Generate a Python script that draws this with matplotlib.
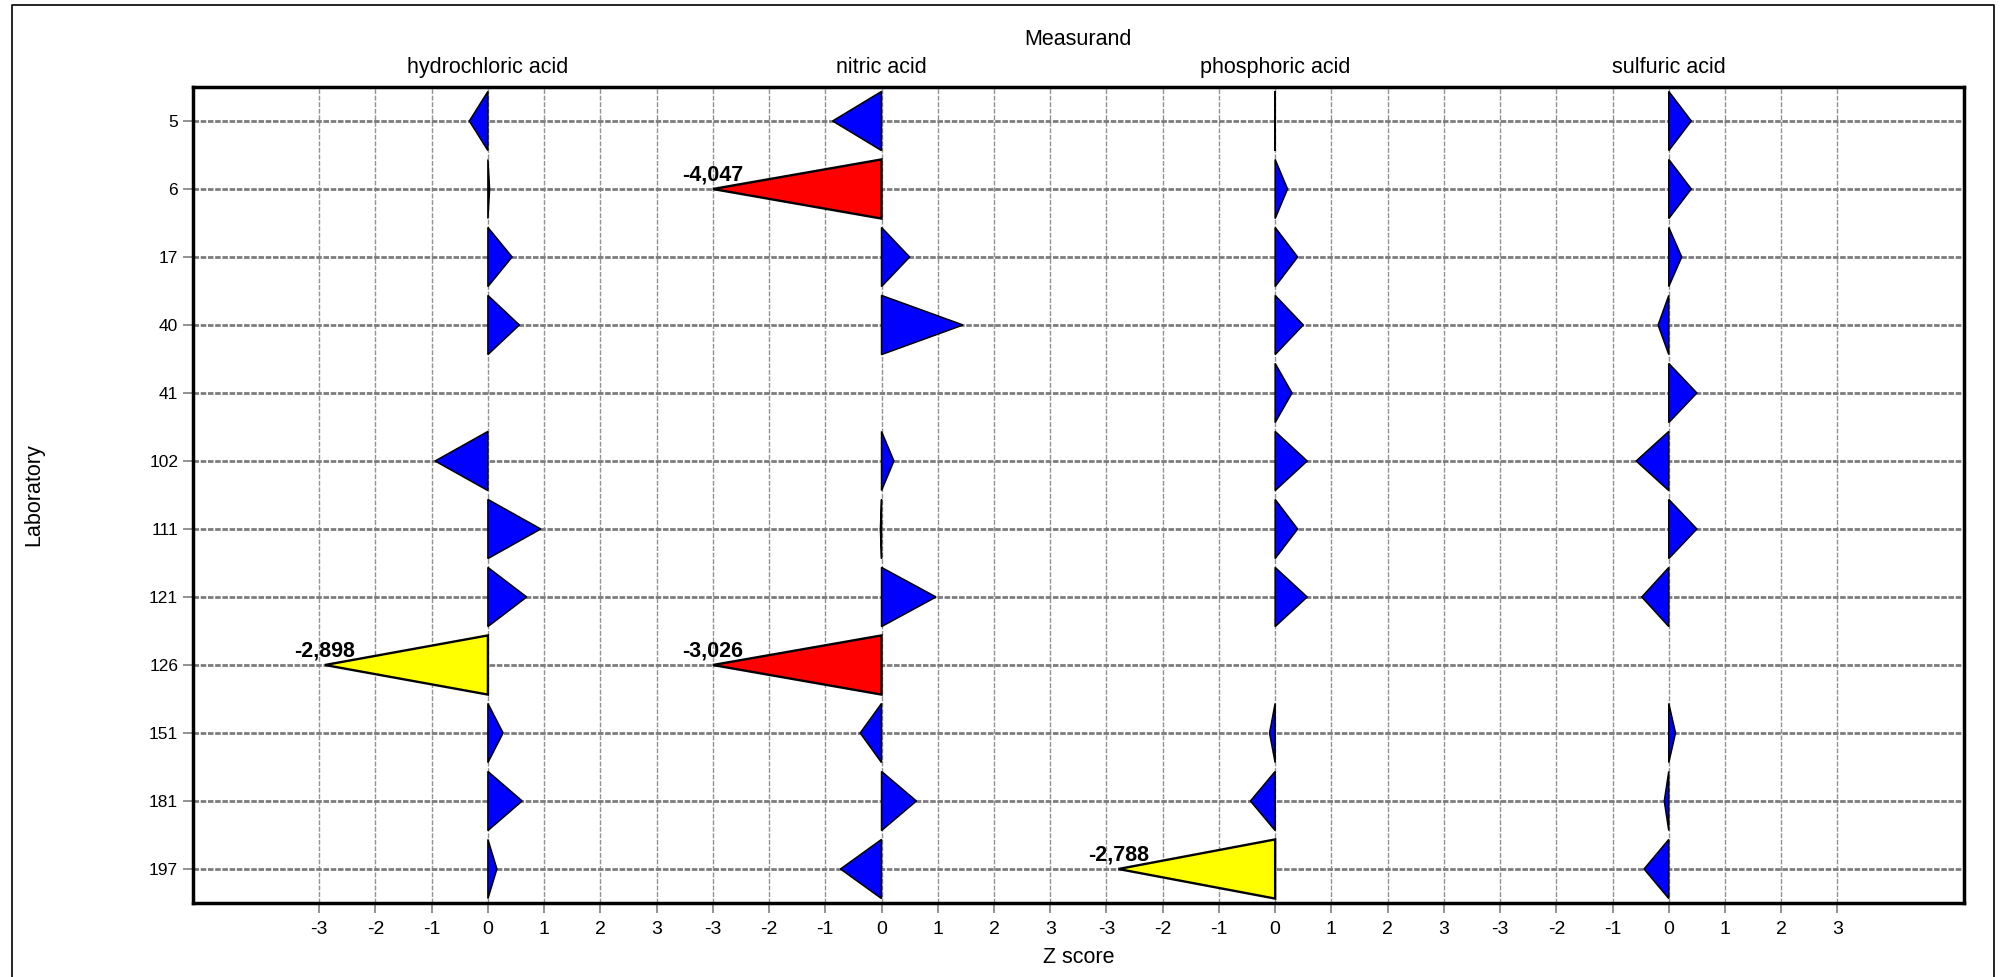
import numpy as np
import matplotlib
matplotlib.use("Agg")
from matplotlib import pyplot as plt
from matplotlib.patches import Polygon
from matplotlib.lines import Line2D

plt.rcParams["font.family"] = ["Liberation Sans", "DejaVu Sans"]

# data
labs = ["5", "6", "17", "40", "41", "102", "111", "121", "126", "151", "181", "197"]
measurands = ["hydrochloric acid", "nitric acid", "phosphoric acid", "sulfuric acid"]
z_hcl = [-0.33, 0.03, 0.43, 0.56, np.nan, -0.94, 0.94, 0.69, -2.898, 0.27, 0.61, 0.16]
z_nitric = [-0.87, -4.047, 0.50, 1.45, np.nan, 0.22, -0.02, 0.97, -3.026, -0.38, 0.62, -0.73]
z_phos = [0.0, 0.22, 0.40, 0.50, 0.30, 0.57, 0.40, 0.57, np.nan, -0.10, -0.44, -2.788]
z_sulf = [0.40, 0.40, 0.23, -0.19, 0.50, -0.58, 0.50, -0.48, np.nan, 0.12, -0.08, -0.44]
z_ticks = [-3, -2, -1, 0, 1, 2, 3]

panel_w = 7      # each measurand gets 7 z units of the shared x axis
half_h = 0.435   # half height of a triangle in rows

fig = plt.figure(figsize=(20.02, 9.77), dpi=100)
ax = fig.add_axes([0.09625, 0.07574, 0.88477, 0.83521])
ax.set_xlim(-5.25, 26.25)
ax.set_ylim(len(labs) - 0.5, -0.5)

# grid
for k in range(len(measurands)):
    for t in z_ticks:
        ax.axvline(k * panel_w + t, color="#939393", lw=1.0, ls=(0, (3.5, 1.2)), zorder=1)
for i in range(len(labs)):
    ax.axhline(i, color="#7c7c7c", lw=2.0, ls=(0, (2, 0.6)), zorder=1)

# triangles
all_z = [z_hcl, z_nitric, z_phos, z_sulf]
for k, vals in enumerate(all_z):
    x0 = k * panel_w
    for i, z in enumerate(vals):
        if np.isnan(z):
            continue
        zc = float(np.clip(z, -3, 3))
        if abs(z) >= 3:
            fc, lw = "#ff0000", 1.7
        elif abs(z) >= 2:
            fc, lw = "#ffff00", 1.7
        else:
            fc, lw = "#0000ff", 1.1
        tri = Polygon([(x0, i - half_h), (x0 + zc, i), (x0, i + half_h)], closed=True,
                      facecolor=fc, edgecolor="black", lw=lw, joinstyle="miter", zorder=3)
        ax.add_patch(tri)
        if abs(z) >= 2:
            ax.text(x0 + zc, i - 0.12, f"{z:.3f}".replace(".", ","), ha="center",
                    va="baseline", fontsize=15.5, fontweight="bold", zorder=4)

# ticks
xt = [k * panel_w + t for k in range(len(measurands)) for t in z_ticks]
ax.set_xticks(xt)
ax.set_xticklabels([str(t) for k in range(len(measurands)) for t in z_ticks])
ax.set_yticks(range(len(labs)))
ax.set_yticklabels(labs)
ax.tick_params(axis="x", length=7, width=1.2, color="#808080", pad=6, labelsize=14)
ax.tick_params(axis="y", length=7, width=1.2, color="#808080", pad=3.4, labelsize=12.5)
for s in ax.spines.values():
    s.set_linewidth(2.5)
    s.set_color("black")

# titles
trans = ax.get_xaxis_transform()
for k, name in enumerate(measurands):
    ax.text(k * panel_w, 1.0168, name, transform=trans, ha="center", va="baseline", fontsize=15.5)
ax.text(10.5, 1.0515, "Measurand", transform=trans, ha="center", va="baseline", fontsize=15.5)
ax.text(10.5, -0.0735, "Z score", transform=trans, ha="center", va="baseline", fontsize=15.5)
fig.text(34 / 2002, 1 - 495 / 977, "Laboratory", rotation=90, ha="center", va="center", fontsize=15.5)

# outer border
fig.add_artist(Line2D([12 / 2002, 12 / 2002, 1994 / 2002, 1994 / 2002], [0, 1 - 5 / 977, 1 - 5 / 977, 0],
                      transform=fig.transFigure, color="black", lw=1.2))

fig.savefig("out.png", dpi=100)
